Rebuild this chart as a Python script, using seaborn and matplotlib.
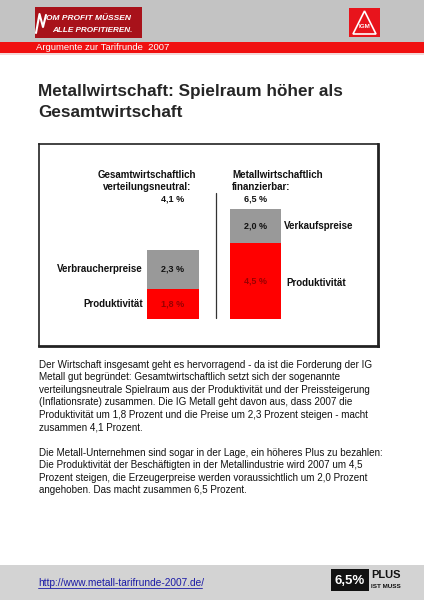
import numpy as np
import pandas as pd
import matplotlib
matplotlib.use("Agg")
import matplotlib.pyplot as plt
from matplotlib.patches import Rectangle, Polygon
import seaborn as sns

# chart data
groups = ["Gesamtwirtschaft", "Metallwirtschaft"]
produktivitaet = [1.8, 4.5]
preise = [2.3, 2.0]
gesamt = [4.1, 6.5]
preis_labels = ["Verbraucherpreise", "Verkaufspreise"]
headings = [["Gesamtwirtschaftlich", "verteilungsneutral:"],
            ["Metallwirtschaftlich", "finanzierbar:"]]

title_lines = ["Metallwirtschaft: Spielraum höher als", "Gesamtwirtschaft"]
para1 = [
    "Der Wirtschaft insgesamt geht es hervorragend - da ist die Forderung der IG",
    "Metall gut begründet: Gesamtwirtschaftlich setzt sich der sogenannte",
    "verteilungsneutrale Spielraum aus der Produktivität und der Preissteigerung",
    "(Inflationsrate) zusammen. Die IG Metall geht davon aus, dass 2007 die",
    "Produktivität um 1,8 Prozent und die Preise um 2,3 Prozent steigen - macht",
    "zusammen 4,1 Prozent.",
]
para2 = [
    "Die Metall-Unternehmen sind sogar in der Lage, ein höheres Plus zu bezahlen:",
    "Die Produktivität der Beschäftigten in der Metallindustrie wird 2007 um 4,5",
    "Prozent steigen, die Erzeugerpreise werden voraussichtlich um 2,0 Prozent",
    "angehoben. Das macht zusammen 6,5 Prozent.",
]
url = "http://www.metall-tarifrunde-2007.de/"

RED = "#ff0000"
GRAY = "#999999"
DARKRED = "#990000"

sns.set_style("white")
plt.rcParams['font.family'] = ['Liberation Sans', 'DejaVu Sans']

def fmt(v):
    return f"{v:.1f}".replace(".", ",") + " %"

W, H = 424, 600
fig = plt.figure(figsize=(W / 100, H / 100), dpi=100)

# page background in pixel coords
bg = fig.add_axes([0, 0, 1, 1], zorder=0)
bg.set_xlim(0, W)
bg.set_ylim(H, 0)
bg.axis("off")

# header
bg.add_patch(Rectangle((0, 0), W, 42, color="#c3c3c3", lw=0))
bg.add_patch(Rectangle((0, 42), W, 11, color="#f01010", lw=0))
bg.add_patch(Rectangle((0, 53), W, 2, color="#f4d8d8", lw=0))
bg.add_patch(Rectangle((35, 7), 107, 31, color="#a8121a", lw=0))
bg.plot([36, 39.5, 43, 46], [33, 14, 27, 15], color="white", lw=1.5, solid_capstyle="round")
bg.text(46, 18, "OM PROFIT MÜSSEN", color="white", fontsize=6.0, fontweight="bold",
        style="italic", va="center", ha="left")
bg.text(52, 30, "ALLE PROFITIEREN.", color="white", fontsize=5.9, fontweight="bold",
        style="italic", va="center", ha="left")
bg.text(36, 47.5, "Argumente zur Tarifrunde  2007", color="white", fontsize=6.8,
        va="center", ha="left")
# IG Metall logo
bg.add_patch(Rectangle((349, 8), 31, 29, color="#e8141c", lw=0))
bg.add_patch(Polygon([[364.5, 11], [353, 34], [376, 34]], closed=True, fill=False,
                     edgecolor="white", lw=1.2))
bg.text(364.5, 27, "IGM", color="white", fontsize=4.5, fontweight="bold", ha="center", va="center")

# title
bg.text(38, 96, title_lines[0], fontsize=12.3, fontweight="bold", ha="left", va="baseline")
bg.text(38, 117, title_lines[1], fontsize=12.3, fontweight="bold", ha="left", va="baseline")

# body text
y = 364.5
for line in para1:
    bg.text(39, y, line, fontsize=7.15, color="#111111", ha="left", va="center")
    y += 12.6
y = 452.7
for line in para2:
    bg.text(39, y, line, fontsize=7.15, color="#111111", ha="left", va="center")
    y += 12.45

# footer
bg.add_patch(Rectangle((0, 565), W, 35, color="#d3d3d3", lw=0))
bg.text(38, 583, url, fontsize=7.3, color="#1a1aa6", ha="left", va="center")
bg.plot([38, 202], [587.8, 587.8], color="#1a1aa6", lw=0.6)
bg.add_patch(Rectangle((331, 569), 38, 22, color="#111111", lw=0))
bg.text(350, 580.5, "6,5%", color="white", fontsize=9.5, fontweight="bold", ha="center",
        va="center")
bg.text(386, 574.5, "PLUS", color="#111111", fontsize=8, fontweight="bold", ha="center",
        va="center")
bg.text(386, 586, "IST MUSS", color="#111111", fontsize=4.6, fontweight="bold", ha="center",
        va="center")

# chart axes = the framed box
x0, x1, y0, y1 = 39, 378, 144, 346
ax = fig.add_axes([x0 / W, 1 - y1 / H, (x1 - x0) / W, (y1 - y0) / H], zorder=1)
ax.set_facecolor("none")

df = pd.DataFrame({"gruppe": groups, "gesamt": gesamt, "produktivitaet": produktivitaet})
sns.barplot(data=df, x="gruppe", y="gesamt", color=GRAY, saturation=1, width=0.63,
            linewidth=0, ax=ax)
sns.barplot(data=df, x="gruppe", y="produktivitaet", color=RED, saturation=1, width=0.63,
            linewidth=0, ax=ax)

# px -> data mapping: bar centres at 173 / 255.5 px, baseline at 319 px, 16.85 px per unit
pxu = 82.5
pyu = 16.85
ax.set_xlim((x0 - 173) / pxu, (x1 - 173) / pxu)
ax.set_ylim(-(y1 - 319) / pyu, (319 - y0) / pyu)
ax.set_xticks([])
ax.set_yticks([])
ax.set_xlabel("")
ax.set_ylabel("")
for s in ["top", "left"]:
    ax.spines[s].set_linewidth(1.2)
for s in ["right", "bottom"]:
    ax.spines[s].set_linewidth(2.0)
for s in ax.spines.values():
    s.set_color("#222222")

# divider
ax.plot([0.518, 0.518], [0.05, 7.5], color="#333333", lw=0.9)

for i in range(len(groups)):
    ax.text(i, produktivitaet[i] / 2, fmt(produktivitaet[i]), color=DARKRED, fontsize=6.5,
            fontweight="bold", ha="center", va="center")
    ax.text(i, produktivitaet[i] + preise[i] / 2, fmt(preise[i]), color="#111111",
            fontsize=6.5, fontweight="bold", ha="center", va="center")
    ax.text(i, 7.15, fmt(gesamt[i]), color="#111111", fontsize=6.5, fontweight="bold",
            ha="center", va="center")

# group labels
lab = dict(fontsize=7.0, fontweight="bold", color="#111111", va="center")
ax.text((143 - 173) / pxu, produktivitaet[0] + preise[0] / 2, preis_labels[0], ha="right", **lab)
ax.text((143 - 173) / pxu, produktivitaet[0] / 2, "Produktivität", ha="right", **lab)
ax.text((284 - 173) / pxu, produktivitaet[1] + preise[1] / 2, preis_labels[1], ha="left", **lab)
ax.text((286 - 173) / pxu, produktivitaet[1] / 2 - 0.1, "Produktivität", ha="left", **lab)

ax.text((147 - 173) / pxu, 8.55, headings[0][0], ha="center", **lab)
ax.text((147 - 173) / pxu, 7.85, headings[0][1], ha="center", **lab)
ax.text((232 - 173) / pxu, 8.55, headings[1][0], ha="left", **lab)
ax.text((232 - 173) / pxu, 7.85, headings[1][1], ha="left", **lab)

fig.savefig("out.png", dpi=100)
